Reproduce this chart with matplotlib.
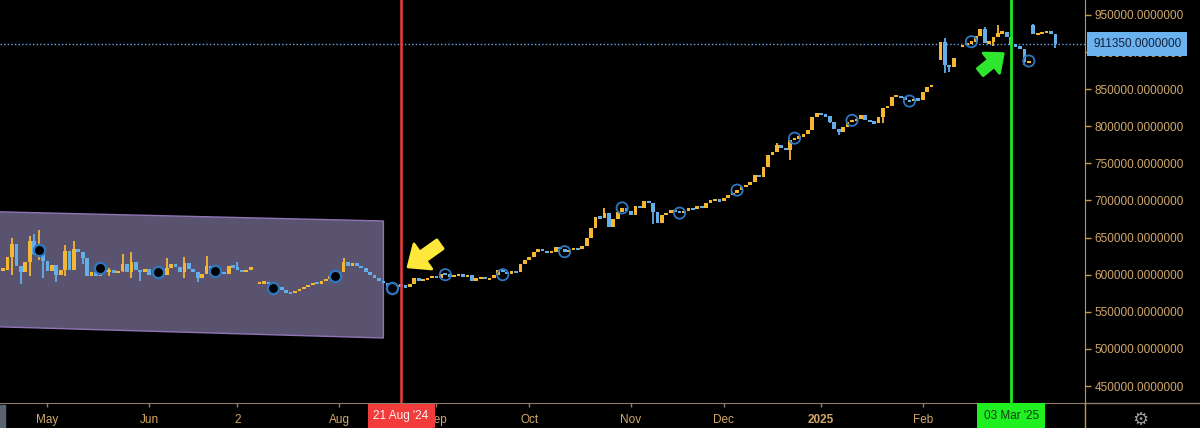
import numpy as np
import pandas as pd
import matplotlib
matplotlib.use("Agg")
from matplotlib import pyplot as plt
from matplotlib.lines import Line2D
from matplotlib.patches import Polygon, Rectangle
from matplotlib.transforms import blended_transform_factory

# daily closes (in thousands), one per weekday from the first day, None = no bar
first_day = "2024-04-17"
closes = [
    607, 624, 642, 612, 603, 617, 645, 628, 634, 618,
    605, 613, 600, 606, 632, 607, 634, 630, 622, 598,
    603, 598, 609, 604, 607, 602, 605, 615, 604, 617,
    606, 603, 608, 600, 604, 604, 600, 609, 614, 610,
    604, 616, 608, 603, 596, 601, 612, 606, 605, 604,
    601, 612, 610, 607, 604, 606, 611, None, 589, 590,
    587, 582, 584, 580, 576, 575, 578, 581, 584, 586,
    589, 588, 592, 594, 598, 600, 604, 617, 612, 616,
    612, 609, 603, 600, 596, 592, 589, 584, 582, 586,
    585, 583, 587, 595, 592, 594, 595, 598, 596, 601,
    600, 598, 599, 600, 598, 599, 592, 595, 597, 594,
    595, 600, 606, 603, 602, 604, 603, 614, 620, 624,
    630, 634, 632, 630, 631, 637, 634, 631, 633, 636,
    634, 639, 650, 663, 678, 676, 683, 664, 675, 685,
    690, 686, 681, 693, 690, 699, 697, 684, 670, 680,
    683, 687, 685, 683, 686, 690, 688, 692, 690, 697,
    700, 701, 699, 704, 707, 710, 714, 718, 721, 725,
    734, 731, 745, 761, 765, 775, 771, 768, 781, 784,
    786, 790, 795, 813, 818, 815, 814, 806, 796, 792,
    799, 806, 808, 810, 815, 808, 806, 804, 813, 825,
    827, 840, 841, 839, 835, 834, 837, 835, 846, 853,
    856, None, 914, 883, 880, 892, None, 910, 912, 914,
    922, 931, 912, 914, 920, 926, 927, 920, 910, 908,
    904, 886, 888, 924, 925, 926, 928, 925, 911.35,
]
# opens that do not equal the previous close (gaps)
gap_opens = {58: 588, 212: 889, 217: 907, 233: 937}
# visible wicks: bar -> (high, low)
wicks = {
    2: (650, 600), 4: (612, 588), 6: (652, 598), 7: (655, 626), 8: (660, 620),
    9: (634, 596), 12: (613, 590), 14: (640, 598), 16: (646, 606), 18: (630, 615),
    24: (609, 598), 27: (628, 604), 29: (630, 596), 31: (606, 592), 37: (622, 600),
    41: (624, 596), 44: (603, 590), 46: (625, 601), 53: (617, 606), 77: (622, 604),
    136: (690, 676), 147: (697, 668), 172: (745, 738), 175: (778, 765),
    178: (781, 755), 187: (814, 804), 189: (796, 788), 199: (825, 805),
    213: (919, 872), 214: (883, 873), 222: (934, 912), 224: (920, 908),
    225: (936, 920), 231: (904, 883), 233: (938, 924), 238: (925, 906),
}

# signal circles (bar, price in thousands)
dots_in_channel = [8, 22, 35, 48, 61, 75, 88]
dots_in_channel_px = [633, 609, 604, 605, 582, 598, 582]
dots = [100, 113, 127, 140, 153, 166, 179, 192, 205, 219, 232]
dots_px = [600, 600, 631, 690, 683, 714, 784, 808, 834, 914, 888]

channel_days = ["2024-04-17", "2024-08-15"]
channel_top = [684.6, 672.4]
channel_bottom = [529.6, 514.7]

month_days = ["2024-05-01", "2024-06-03", "2024-07-01", "2024-08-01", "2024-09-02",
              "2024-10-01", "2024-11-01", "2024-12-02", "2025-01-01", "2025-02-03",
              "2025-03-03"]
# "Mar" sits under the green date box in the original
month_labels = ["May", "Jun", "2", "Aug", "Sep", "Oct", "Nov", "Dec", "2025", "Feb", ""]
price_ticks = list(range(450000, 950001, 50000))
last_price = 911350
red_day, red_label = "2024-08-21", "21 Aug '24"
green_day, green_label = "2025-03-03", "03 Mar '25"

ORANGE = "#f5b732"
BLUE = "#64aeea"
TAN = "#d2a86a"
BG = "#000000"

days = pd.bdate_range(first_day, periods=len(closes))


def bar_of(day):
    return days.get_loc(pd.Timestamp(day))


fig = plt.figure(figsize=(12, 4.28), dpi=100, facecolor=BG)
ax = fig.add_axes([0, 25 / 428, 1085 / 1200, 403 / 428])
ax.set_facecolor(BG)

# channel
c0, c1 = bar_of(channel_days[0]), bar_of(channel_days[1])
slope_t = (channel_top[1] - channel_top[0]) / (c1 - c0)
slope_b = (channel_bottom[1] - channel_bottom[0]) / (c1 - c0)
xl = c0 - 4
poly = [(xl, (channel_top[0] - 4 * slope_t) * 1000), (c1, channel_top[1] * 1000),
        (c1, channel_bottom[1] * 1000), (xl, (channel_bottom[0] - 4 * slope_b) * 1000)]
ax.add_patch(Polygon(poly, closed=True, fc="#5a5370", ec="#8f74b4", lw=1.0, zorder=1))

# candles
prev = None
for i, c in enumerate(closes):
    if c is None:
        prev = None
        continue
    o = gap_opens.get(i, prev if prev is not None else c)
    prev = c
    col = ORANGE if c >= o else BLUE
    hi, lo = wicks.get(i, (max(o, c), min(o, c)))
    if hi > lo:
        ax.vlines(i, lo * 1000, hi * 1000, color=col, lw=1.3, zorder=3)
    body = abs(c - o) * 1000
    h = max(body, 3000)
    ax.bar(i, h, bottom=min(o, c) * 1000 - (h - body) / 2, width=0.85,
           color=col, lw=0, zorder=4)

ax.scatter(dots_in_channel, np.array(dots_in_channel_px) * 1000, s=65, fc="black",
           ec="#2f78c0", lw=1.6, zorder=5)
ax.scatter(dots, np.array(dots_px) * 1000, s=65, fc="none", ec="#2f78c0", lw=1.3, zorder=5)

# reference lines
ax.axhline(last_price, color="#6aa8e8", lw=1.0, ls=(0, (1, 1.6)), zorder=2)
rx, gx = bar_of(red_day), bar_of(green_day)
ax.axvline(rx, color="#f23c3c", lw=1.8, zorder=6)
ax.axvline(gx, color="#1fe61f", lw=2.0, zorder=6)

# hand drawn arrows
ax.annotate("", xy=(rx + 1.6, 610500), xytext=(rx + 8.8, 641000),
            arrowprops=dict(arrowstyle="simple,head_length=1.0,head_width=1.7,tail_width=0.6",
                            fc="#ffe83a", ec="#ffe83a", lw=2, joinstyle="round",
                            mutation_scale=13, shrinkA=0, shrinkB=0), zorder=7)
ax.annotate("", xy=(gx - 1.8, 898000), xytext=(gx - 7.0, 873000),
            arrowprops=dict(arrowstyle="simple,head_length=1.0,head_width=1.7,tail_width=0.6",
                            fc="#2ee62e", ec="#2ee62e", lw=2, joinstyle="round",
                            mutation_scale=11, shrinkA=0, shrinkB=0), zorder=7)

ax.set_xlim(-0.72, 244.7)
ax.set_ylim(427100, 970200)

# axes styling
for s in ("top", "left"):
    ax.spines[s].set_visible(False)
ax.spines["right"].set_color("#c8964c")
ax.spines["bottom"].set_color("#8c7c6c")
ax.yaxis.tick_right()
ax.set_yticks(price_ticks)
ax.set_yticklabels([f"{p:.7f}" for p in price_ticks])
ax.tick_params(axis="y", colors="#c8964c", labelcolor=TAN, length=4, width=1,
               direction="out", pad=3, labelsize=8.5)
ax.set_xticks([bar_of(d) for d in month_days])
ax.set_xticklabels(month_labels)
ax.tick_params(axis="x", colors="#8c7c6c", labelcolor=TAN, length=3, width=1,
               direction="out", pad=5, labelsize=8.5)
for lab in ax.get_xticklabels() + ax.get_yticklabels():
    lab.set_family("Liberation Sans")
ax.get_xticklabels()[month_labels.index("2025")].set_fontweight("bold")

# date and price labels
tr = blended_transform_factory(ax.transData, ax.transAxes)
ax.text(rx, -0.032, red_label, transform=tr, ha="center", va="center", color="#fff0f0",
        fontsize=8.5, family="Liberation Sans", zorder=10, clip_on=False,
        bbox=dict(boxstyle="square,pad=0.5", fc="#f23c3c", ec="none"))
ax.text(gx, -0.032, green_label, transform=tr, ha="center", va="center", color="#1c3a1c",
        fontsize=8.5, family="Liberation Sans", zorder=10, clip_on=False,
        bbox=dict(boxstyle="square,pad=0.55", fc="#1ff01f", ec="none"))
tr2 = blended_transform_factory(ax.transAxes, ax.transData)
ax.text(1.0075, last_price, f"{last_price:.7f}", transform=tr2, ha="left", va="center",
        color="#10203a", fontsize=8.5, family="Liberation Sans", zorder=10, clip_on=False,
        bbox=dict(boxstyle="square,pad=0.5", fc="#6cb2ee", ec="none"))

# frame pieces outside the plot
fig.add_artist(Line2D([1085 / 1200, 1], [25 / 428, 25 / 428], color="#8c7c6c", lw=1))
fig.add_artist(Line2D([1085 / 1200, 1085 / 1200], [0, 25 / 428], color="#c8964c", lw=1))
fig.add_artist(Rectangle((0, 0), 5 / 1200, 23 / 428, color="#5a6470"))
fig.text(1140 / 1200, 8 / 428, "\u2699", color="#9a9a9a", fontsize=13,
         ha="center", va="center", family="DejaVu Sans")

fig.savefig("out.png", dpi=100, facecolor=BG)
